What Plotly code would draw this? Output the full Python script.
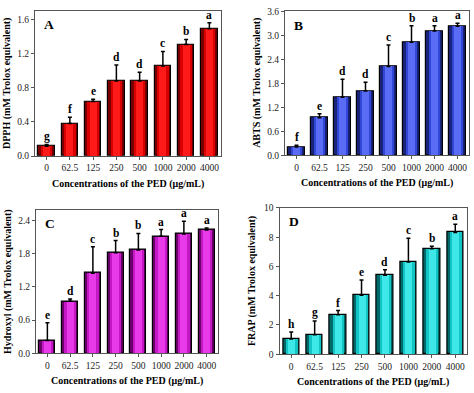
import plotly.graph_objects as go

categories = ["0", "62.5", "125", "250", "500", "1000", "2000", "4000"]

dpph = [0.115, 0.38, 0.64, 0.88, 0.88, 1.055, 1.305, 1.49]
dpph_err = [0.02, 0.075, 0.025, 0.185, 0.10, 0.17, 0.06, 0.07]
dpph_sig = ["g", "f", "e", "d", "d", "c", "b", "a"]

abts = [0.21, 0.94, 1.45, 1.61, 2.22, 2.83, 3.11, 3.23]
abts_err = [0.04, 0.10, 0.45, 0.22, 0.54, 0.41, 0.13, 0.07]
abts_sig = ["f", "e", "d", "d", "c", "b", "a", "a"]

hydroxyl = [0.23, 0.94, 1.45, 1.82, 1.87, 2.12, 2.16, 2.23]
hydroxyl_err = [0.32, 0.04, 0.48, 0.22, 0.30, 0.12, 0.23, 0.04]
hydroxyl_sig = ["e", "d", "c", "b", "b", "a", "a", "a"]

frap = [1.04, 1.33, 2.70, 4.04, 5.40, 6.31, 7.22, 8.33]
frap_err = [0.47, 0.94, 0.28, 1.03, 0.38, 1.62, 0.16, 0.56]
frap_sig = ["h", "g", "f", "e", "d", "c", "b", "a"]

panels = [
    dict(name="A", vals=dpph, err=dpph_err, sig=dpph_sig,
         ytitle="DPPH (mM Trolox equivalent)", yrange=[0, 1.7], dtick=0.4, fmt=".1f",
         colors=["#7a0000", "#d80000", "#ff1a1a"],
         xdom=[35/474, 221/474], ydom=[(393-155)/393, (393-6)/393]),
    dict(name="B", vals=abts, err=abts_err, sig=abts_sig,
         ytitle="ABTS (mM Trolox equivalent)", yrange=[0, 3.6], dtick=0.6, fmt=".1f",
         colors=["#1a237a", "#3347d6", "#5a6cf5"],
         xdom=[285/474, 469/474], ydom=[(393-154.3)/393, (393-6.5)/393]),
    dict(name="C", vals=hydroxyl, err=hydroxyl_err, sig=hydroxyl_sig,
         ytitle="Hydroxyl (mM Trolox equivalent)", yrange=[0, 2.6], dtick=0.6, fmt=".1f",
         colors=["#6a006a", "#c418c4", "#e83ae8"],
         xdom=[36/474, 218/474], ydom=[(393-357.3)/393, (393-210)/393]),
    dict(name="D", vals=frap, err=frap_err, sig=frap_sig,
         ytitle="FRAP (mM Trolox equivalent)", yrange=[0, 10], dtick=2, fmt="d",
         colors=["#006a6a", "#12c4c4", "#3ee8e8"],
         xdom=[279.5/474, 467/474], ydom=[(393-358.3)/393, (393-208.3)/393]),
]

fig = go.Figure()
serif = "Liberation Serif"
annotations = []
layout_axes = {}
xs = list(range(len(categories)))

for i, p in enumerate(panels):
    k = "" if i == 0 else str(i + 1)
    xa, ya = "x" + k, "y" + k
    # layered bars to mimic the shaded look
    fig.add_trace(go.Bar(x=xs, y=p["vals"], width=0.7, xaxis=xa, yaxis=ya,
                         marker=dict(color=p["colors"][0], line=dict(color="black", width=1.2)),
                         showlegend=False))
    fig.add_trace(go.Bar(x=xs, y=p["vals"], width=0.5, xaxis=xa, yaxis=ya,
                         marker=dict(color=p["colors"][1], line=dict(width=0)),
                         showlegend=False))
    fig.add_trace(go.Bar(x=xs, y=p["vals"], width=0.3, xaxis=xa, yaxis=ya,
                         marker=dict(color=p["colors"][2], line=dict(width=0)),
                         showlegend=False))
    # error bars (upper only)
    fig.add_trace(go.Scatter(x=xs, y=p["vals"], mode="markers", xaxis=xa, yaxis=ya,
                             marker=dict(size=0.1, color="rgba(0,0,0,0)"),
                             error_y=dict(type="data", array=p["err"], arrayminus=[0]*8,
                                          symmetric=False, color="black", thickness=1.5, width=2),
                             showlegend=False))
    for j, s in enumerate(p["sig"]):
        annotations.append(dict(x=j, y=p["vals"][j] + p["err"][j], xref=xa, yref=ya,
                                text="<b>%s</b>" % s, showarrow=False,
                                xanchor="center", yanchor="bottom", yshift=0,
                                font=dict(family=serif, size=11.5, color="black")))
    annotations.append(dict(x=0.04, y=0.97, xref=xa + " domain", yref=ya + " domain",
                            text="<b>%s</b>" % p["name"], showarrow=False,
                            xanchor="left", yanchor="top",
                            font=dict(family=serif, size=13.5, color="black")))
    # axis titles
    annotations.append(dict(x=(p["xdom"][0] + p["xdom"][1]) / 2, y=p["ydom"][0] - 0.072,
                            xref="paper", yref="paper", xanchor="center", yanchor="middle",
                            text="<b>Concentrations of the PED (μg/mL)</b>", showarrow=False,
                            font=dict(family=serif, size=10, color="black")))
    annotations.append(dict(x=p["xdom"][0] - 0.058, y=(p["ydom"][0] + p["ydom"][1]) / 2,
                            xref="paper", yref="paper", xanchor="center", yanchor="middle",
                            textangle=-90,
                            text="<b>%s</b>" % p["ytitle"], showarrow=False,
                            font=dict(family=serif, size=10, color="black")))
    layout_axes["xaxis" + k] = dict(domain=p["xdom"], anchor=ya, range=[-0.5, 7.5],
                                    tickmode="array", tickvals=xs, ticktext=categories,
                                    tickangle=0,
                                    showline=True, linecolor="#555", linewidth=1, mirror=True,
                                    ticks="outside", ticklen=3, tickcolor="#555",
                                    showgrid=False, zeroline=False,
                                    tickfont=dict(family=serif, size=9.5, color="#222"))
    layout_axes["yaxis" + k] = dict(domain=p["ydom"], anchor=xa, range=p["yrange"],
                                    dtick=p["dtick"], tick0=0, tickformat=p["fmt"],
                                    showline=True, linecolor="#555", linewidth=1, mirror=True,
                                    ticks="outside", ticklen=3, tickcolor="#555",
                                    showgrid=False, zeroline=False,
                                    tickfont=dict(family=serif, size=9.5, color="#222"))

fig.update_layout(width=474, height=393, margin=dict(l=0, r=0, t=0, b=0),
                  plot_bgcolor="white", paper_bgcolor="white",
                  barmode="overlay", bargap=0, annotations=annotations, **layout_axes)

fig.write_html("out.html", config={"displayModeBar": False},
               post_script="document.body.style.margin='0px';document.body.style.padding='0px';document.body.style.overflow='hidden';")
